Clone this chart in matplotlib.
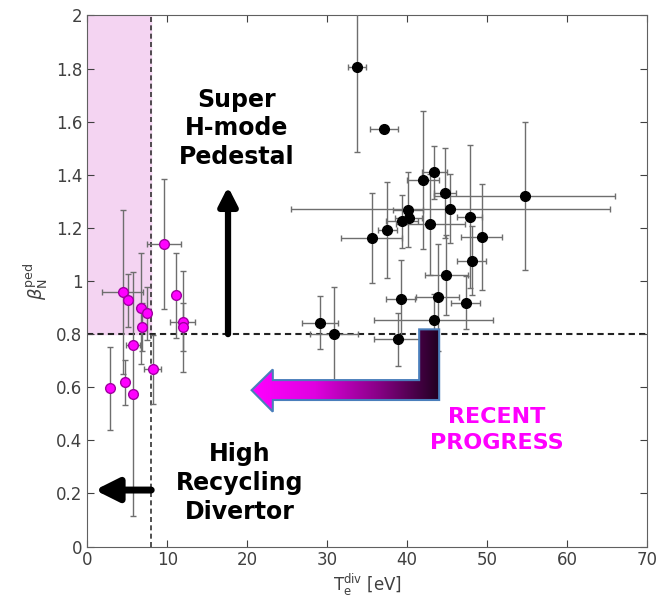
import numpy as np
import matplotlib
matplotlib.use("Agg")
import matplotlib.pyplot as plt
from matplotlib.patches import Polygon
from matplotlib.colors import LinearSegmentedColormap

# H-mode points (black)
hm_te = [33.7, 37.1, 43.4, 42.0, 44.75, 54.7, 45.4, 40.1, 40.2, 39.3, 42.9, 37.5,
         35.55, 47.8, 49.3, 48.05, 44.9, 39.2, 43.8, 47.3, 43.3, 29.1, 30.9, 38.8]
hm_beta = [1.806, 1.573, 1.41, 1.379, 1.332, 1.32, 1.272, 1.269, 1.237, 1.225, 1.213, 1.193,
           1.163, 1.242, 1.167, 1.076, 1.022, 0.931, 0.938, 0.919, 0.853, 0.843, 0.799, 0.78]
hm_te_err = [1.15, 1.8, 1.6, 2.0, 1.4, 11.3, 19.9, 1.9, 1.7, 2.0, 4.3, 1.2,
             3.85, 1.6, 2.6, 1.8, 2.7, 1.8, 2.7, 1.8, 7.4, 2.2, 3.0, 2.9]
hm_beta_err = [0.32, 0.0, 0.10, 0.26, 0.17, 0.28, 0.13, 0.14, 0.0, 0.10, 0.19, 0.18,
               0.17, 0.27, 0.20, 0.13, 0.15, 0.15, 0.20, 0.10, 0.10, 0.10, 0.18, 0.10]

# high recycling points (magenta)
hr_te = [2.84, 4.42, 5.05, 4.75, 5.75, 5.67, 6.67, 6.88, 7.42, 8.17, 9.6, 11.05, 11.92, 12.0]
hr_beta = [0.596, 0.959, 0.928, 0.618, 0.759, 0.574, 0.897, 0.828, 0.878, 0.667, 1.138, 0.947, 0.846, 0.828]
hr_te_err = [0.0, 2.6, 0.0, 0.0, 0.9, 0.0, 0.0, 0.0, 0.0, 1.1, 2.1, 0.0, 1.56, 0.0]
hr_beta_err = [0.156, 0.31, 0.10, 0.085, 0.0, 0.46, 0.21, 0.09, 0.10, 0.13, 0.245, 0.16, 0.19, 0.09]

te_limit = 8
beta_limit = 0.8

fig = plt.figure(figsize=(6.61, 6.05), dpi=100)
ax = fig.add_axes([0.132, 0.0965, 0.847, 0.878])

# shaded target region
ax.fill_between([0, te_limit], beta_limit, 2, color="#f4d4f2", zorder=0)
ax.plot([te_limit, te_limit], [0, 2], ls=(0, (3, 2)), color="#333333", lw=1.2, zorder=1)
ax.axhline(beta_limit, ls=(0, (3, 2)), color="#222222", lw=1.5, zorder=1)

ax.errorbar(hm_te, hm_beta, xerr=hm_te_err, yerr=hm_beta_err, fmt="o", color="black",
            ms=7, ecolor="#6e6e6e", elinewidth=1, capsize=2.5, zorder=3)
ax.errorbar(hr_te, hr_beta, xerr=hr_te_err, yerr=hr_beta_err, fmt="o", mfc="#ff00ff",
            mec="#a000a0", ms=7, ecolor="#6e6e6e", elinewidth=1, capsize=2.5, zorder=3)

# arrows
ax.annotate("", xy=(17.6, 1.355), xytext=(17.6, 0.8),
            arrowprops=dict(arrowstyle="-|>,head_length=0.55,head_width=0.28", lw=4.5,
                            color="black", mutation_scale=20, shrinkA=0, shrinkB=0))
ax.annotate("", xy=(0.96, 0.213), xytext=(8, 0.213),
            arrowprops=dict(arrowstyle="-|>,head_length=0.7,head_width=0.35", lw=5,
                            color="black", mutation_scale=20, shrinkA=0, shrinkB=0))

# gradient "recent progress" arrow
pts = [(41.5, 0.818), (44.0, 0.818), (44.0, 0.552), (23.2, 0.552), (23.2, 0.508),
       (20.55, 0.589), (23.2, 0.667), (23.2, 0.627), (41.5, 0.627)]
poly = Polygon(pts, closed=True, facecolor="none", edgecolor="#4a7ebb", lw=1.5, zorder=5)
ax.add_patch(poly)
cmap = LinearSegmentedColormap.from_list("prog", ["#ff00ff", "#e000e0", "#8a0088", "#200020"])
grad = np.linspace(0, 1, 256).reshape(1, -1)
im = ax.imshow(grad, extent=[20.55, 44.0, 0.50, 0.82], aspect="auto", cmap=cmap,
               origin="lower", zorder=4)
im.set_clip_path(poly)

ax.text(18.7, 1.575, "Super\nH-mode\nPedestal", ha="center", va="center", fontsize=17,
        fontweight="bold", linespacing=1.25)
ax.text(19.1, 0.24, "High\nRecycling\nDivertor", ha="center", va="center", fontsize=17,
        fontweight="bold", linespacing=1.25)
ax.text(51.2, 0.44, "RECENT\nPROGRESS", ha="center", va="center", fontsize=16,
        fontweight="bold", color="#ff00ff", linespacing=1.4)

ax.set_xlim(0, 70)
ax.set_ylim(0, 2)
ax.set_xticks(range(0, 71, 10))
ax.set_yticks(np.arange(0, 2.01, 0.2))
ax.set_yticklabels(["0", "0.2", "0.4", "0.6", "0.8", "1", "1.2", "1.4", "1.6", "1.8", "2"])
ax.tick_params(direction="in", top=True, right=True, labelsize=12, colors="#404040", length=5)
for s in ax.spines.values():
    s.set_color("#606060")
ax.set_xlabel(r"T$_{\rm e}^{\rm div}$ [eV]", fontsize=12, color="#404040", labelpad=2)
ax.set_ylabel(r"$\beta_{\rm N}^{\rm ped}$", fontsize=13, color="#404040", labelpad=4)

fig.savefig("out.png", dpi=100)
